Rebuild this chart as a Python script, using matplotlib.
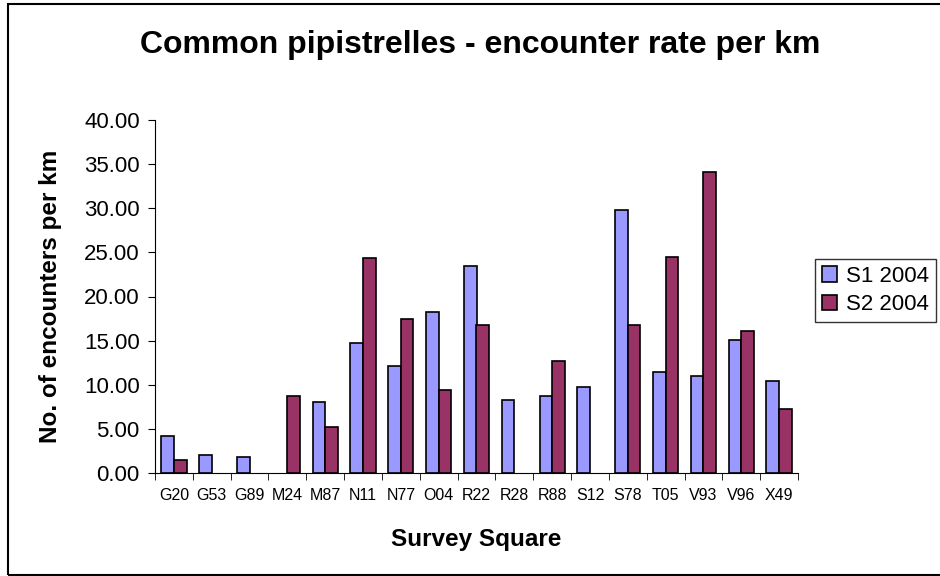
import numpy as np
import matplotlib.pyplot as plt
from matplotlib.patches import Rectangle

squares = ['G20', 'G53', 'G89', 'M24', 'M87', 'N11', 'N77', 'O04', 'R22', 'R28',
           'R88', 'S12', 'S78', 'T05', 'V93', 'V96', 'X49']
# nan = no bar drawn for that square
s1_2004 = [4.14, 2.07, 1.77, np.nan, 8.0, 14.72, 12.15, 18.19, 23.4, 8.3,
           8.68, 9.74, 29.8, 11.4, 10.94, 15.1, 10.37]
s2_2004 = [1.43, np.nan, np.nan, 8.68, 5.2, 24.4, 17.5, 9.36, 16.8, np.nan,
           12.64, np.nan, 16.76, 24.46, 34.1, 16.1, 7.28]

plt.rcParams['font.family'] = ['Liberation Sans', 'DejaVu Sans']

fig = plt.figure(figsize=(9.4, 5.76), dpi=100)
ax = fig.add_axes([155/940, 1 - 473/576, 643/940, 353/576])

x = np.arange(len(squares))
w = 1/3
ax.bar(x - w/2, s1_2004, width=w, color='#9999FF', edgecolor='black', linewidth=1.2, label='S1 2004')
ax.bar(x + w/2, s2_2004, width=w, color='#993366', edgecolor='black', linewidth=1.2, label='S2 2004')

ax.set_xlim(-0.5, len(squares) - 0.5)
ax.set_ylim(0, 40)
yt = np.arange(0, 45, 5)
ax.set_yticks(yt)
ax.set_yticklabels(['%.2f' % v for v in yt], fontsize=16)
ax.set_xticks(x)
ax.set_xticklabels(squares, fontsize=11.5)
ax.tick_params(axis='x', length=0, pad=11)
ax.set_xticks(np.arange(-0.5, len(squares)), minor=True)
ax.tick_params(axis='x', which='minor', length=5, direction='out')
ax.tick_params(axis='y', length=5, direction='out', pad=6)
ax.spines['top'].set_visible(False)
ax.spines['right'].set_visible(False)

ax.set_xlabel('Survey Square', fontsize=17.5, fontweight='bold', labelpad=18)
ax.set_ylabel('No. of encounters per km', fontsize=17.5, fontweight='bold', labelpad=16)
fig.text(480/940, 1 - 45/576, 'Common pipistrelles - encounter rate per km',
         ha='center', va='center', fontsize=23, fontweight='bold')

leg = ax.legend(loc='upper left', bbox_to_anchor=(815/940, 1 - 259/576), bbox_transform=fig.transFigure,
                fontsize=16, frameon=True, fancybox=False, edgecolor='black',
                handlelength=0.7, handleheight=0.7, borderpad=0.3, labelspacing=0.35, handletextpad=0.4,
                borderaxespad=0)
leg.get_frame().set_linewidth(1)

# chart-area border (right edge runs off the image)
fig.patches.append(Rectangle((8/940, 1/576), 940/940, 571/576, transform=fig.transFigure,
                             fill=False, edgecolor='black', linewidth=1.5))

fig.savefig('out.png', dpi=100)
